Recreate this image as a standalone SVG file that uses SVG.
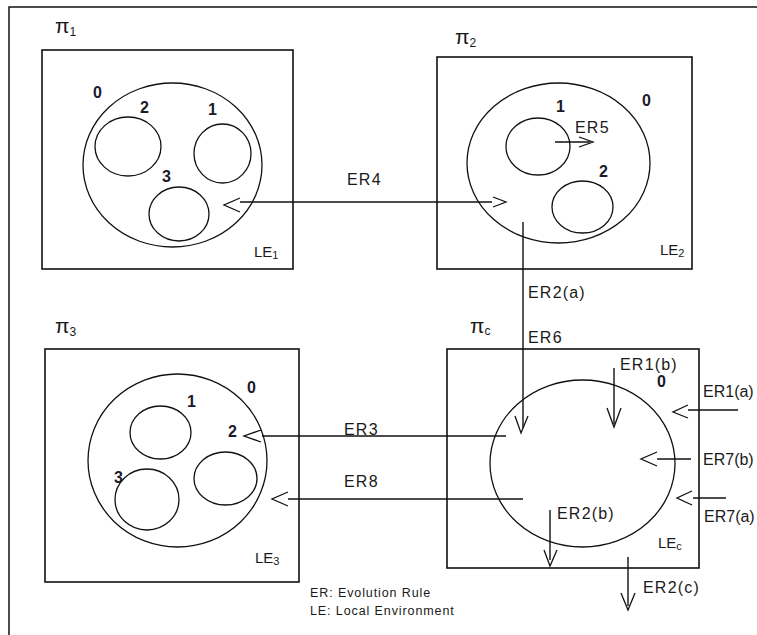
<svg xmlns="http://www.w3.org/2000/svg" width="757" height="635" viewBox="0 0 757 635">
<style>
.frame{fill:none;stroke:#111;stroke-width:1.5}
.box{fill:none;stroke:#111;stroke-width:1.6}
.memb{fill:none;stroke:#111;stroke-width:1.3}
.conn{fill:none;stroke:#111;stroke-width:1.4}
.head{fill:none;stroke:#111;stroke-width:1.3}
.lbl{font-family:"Liberation Sans",Arial,sans-serif;font-size:16px;letter-spacing:1.2px;fill:#1a1a1a}
.edge{letter-spacing:0}
.num{font-family:"Liberation Sans",Arial,sans-serif;font-size:16px;font-weight:bold;fill:#1a1a2a}
.pi{font-family:"Liberation Sans",Arial,sans-serif;font-size:21px;fill:#1a1a1a}
.pisub{font-size:12px}
.le{font-family:"Liberation Sans",Arial,sans-serif;font-size:15px;fill:#1a1a1a}
.lesub{font-size:11px}
.legend{font-family:"Liberation Sans",Arial,sans-serif;font-size:12.5px;letter-spacing:0.9px;fill:#1a1a1a}
</style>
<rect width="757" height="635" fill="#fff"/>
<path class="frame" d="M9,635 V7 H757"/>

<g id="pi1">
<rect class="box" x="42" y="50" width="251" height="219"/>
<text class="pi" x="55" y="33">π<tspan class="pisub" dy="3">1</tspan></text>
<ellipse class="memb" cx="172.5" cy="165" rx="89.5" ry="82"/>
<ellipse class="memb" cx="128" cy="146.5" rx="33" ry="29.5"/>
<ellipse class="memb" cx="222.5" cy="153.5" rx="28.5" ry="29.5"/>
<ellipse class="memb" cx="179" cy="214" rx="30" ry="27"/>
<text class="num" x="93" y="98">0</text>
<text class="num" x="140" y="113">2</text>
<text class="num" x="208" y="115">1</text>
<text class="num" x="162" y="182">3</text>
<text class="le" x="254" y="257">LE<tspan class="lesub" dy="2">1</tspan></text>
</g>

<g id="pi2">
<rect class="box" x="437" y="57" width="255" height="212"/>
<text class="pi" x="455" y="44">π<tspan class="pisub" dy="3">2</tspan></text>
<ellipse class="memb" cx="558.5" cy="163" rx="91.5" ry="80"/>
<ellipse class="memb" cx="538" cy="146.5" rx="32" ry="28.5"/>
<ellipse class="memb" cx="582.5" cy="207" rx="30.5" ry="26"/>
<text class="num" x="556" y="112">1</text>
<text class="num" x="642" y="106">0</text>
<text class="num" x="599" y="177">2</text>
<text class="le" x="660" y="255">LE<tspan class="lesub" dy="2">2</tspan></text>
</g>

<g id="pi3">
<rect class="box" x="45" y="349" width="254" height="233"/>
<text class="pi" x="55" y="333">π<tspan class="pisub" dy="3">3</tspan></text>
<ellipse class="memb" cx="177.5" cy="460.5" rx="89.5" ry="86.5"/>
<ellipse class="memb" cx="160.5" cy="432.5" rx="30.5" ry="26.5"/>
<ellipse class="memb" cx="225.5" cy="478.5" rx="31.5" ry="26.5"/>
<ellipse class="memb" cx="147" cy="499.5" rx="32" ry="30.5"/>
<text class="num" x="247" y="393">0</text>
<text class="num" x="187" y="407">1</text>
<text class="num" x="228" y="437">2</text>
<text class="num" x="114" y="483">3</text>
<text class="le" x="255" y="563">LE<tspan class="lesub" dy="2">3</tspan></text>
</g>

<g id="pic">
<rect class="box" x="447" y="349" width="252" height="219"/>
<text class="pi" x="470" y="333">π<tspan class="pisub" dy="2">c</tspan></text>
<ellipse class="memb" cx="582.5" cy="463.5" rx="92.5" ry="83.5"/>
<text class="num" x="657" y="387">0</text>
<text class="le" x="658" y="548">LE<tspan class="lesub" dy="2">c</tspan></text>
</g>

<g id="connectors">
<!-- ER4 -->
<line class="conn" x1="240" y1="202" x2="492" y2="202"/>
<polyline class="head" points="240,198 224,205 240,212"/>
<polyline class="head" points="493,197 506,202 493,207"/>
<text class="lbl" x="347" y="185">ER4</text>
<!-- ER5 -->
<line class="conn" x1="555" y1="142" x2="590" y2="142"/>
<polyline class="head" points="579,137 593,142 579,147"/>
<text class="lbl" x="575" y="133">ER5</text>
<!-- ER2(a) / ER6 -->
<line class="conn" x1="523" y1="222" x2="523" y2="428"/>
<polyline class="head" points="515,416 521,433 528,416"/>
<text class="lbl" x="528" y="298">ER2(a)</text>
<text class="lbl" x="528" y="343">ER6</text>
<!-- ER1(b) -->
<line class="conn" x1="614" y1="368" x2="614" y2="424"/>
<polyline class="head" points="607,408 614,427 621,408"/>
<text class="lbl" x="620" y="370">ER1(b)</text>
<!-- ER1(a) -->
<line class="conn" x1="688" y1="410" x2="738" y2="410"/>
<polyline class="head" points="688,405 673,412 688,418"/>
<text class="lbl edge" x="703" y="397">ER1(a)</text>
<!-- ER7(b) -->
<line class="conn" x1="657" y1="459" x2="691" y2="459"/>
<polyline class="head" points="657,452 641,459 657,466"/>
<text class="lbl edge" x="703" y="465">ER7(b)</text>
<!-- ER7(a) -->
<line class="conn" x1="693" y1="498" x2="726" y2="498"/>
<polyline class="head" points="692,491 677,498 692,505"/>
<text class="lbl edge" x="704" y="522">ER7(a)</text>
<!-- ER3 -->
<line class="conn" x1="262" y1="436" x2="506" y2="436"/>
<polyline class="head" points="261,430 244,436 261,442"/>
<text class="lbl" x="344" y="435">ER3</text>
<!-- ER8 -->
<line class="conn" x1="288" y1="499" x2="523" y2="499"/>
<polyline class="head" points="288,492 272,499 288,506"/>
<text class="lbl" x="344" y="487">ER8</text>
<!-- ER2(b) -->
<line class="conn" x1="550" y1="510" x2="550" y2="560"/>
<polyline class="head" points="544,550 550,566 557,550"/>
<text class="lbl" x="557" y="519">ER2(b)</text>
<!-- ER2(c) -->
<line class="conn" x1="628" y1="557" x2="628" y2="606"/>
<polyline class="head" points="621,593 628,610 635,593"/>
<text class="lbl" x="643" y="593">ER2(c)</text>
</g>

<g id="legend">
<text class="legend" x="310" y="597">ER: Evolution Rule</text>
<text class="legend" x="310" y="615">LE: Local Environment</text>
</g>
</svg>
